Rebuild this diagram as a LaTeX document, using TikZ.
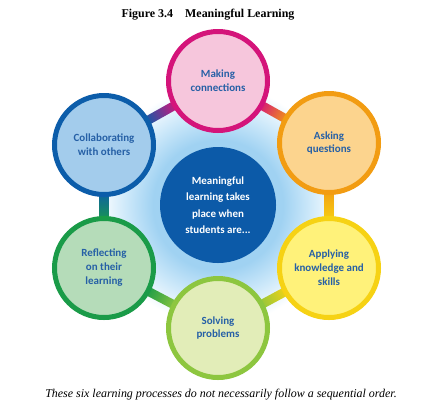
\documentclass[tikz,border=0pt]{standalone}
\usepackage{fontspec}
\setmainfont{Liberation Serif}
\newfontfamily\lblfont{Carlito}
\usetikzlibrary{calc,backgrounds}
\definecolor{txtblue}{RGB}{38,96,166}
\definecolor{centerblue}{RGB}{12,90,168}
\definecolor{glowA}{RGB}{206,233,250}
\definecolor{glowB}{RGB}{160,210,242}
\definecolor{magB}{RGB}{212,20,122}\definecolor{magF}{RGB}{246,198,220}
\definecolor{orgB}{RGB}{242,156,18}\definecolor{orgF}{RGB}{252,212,142}
\definecolor{yelB}{RGB}{246,210,20}\definecolor{yelF}{RGB}{255,242,122}
\definecolor{lgrB}{RGB}{141,198,63}\definecolor{lgrF}{RGB}{226,237,184}
\definecolor{grnB}{RGB}{26,155,72}\definecolor{grnF}{RGB}{181,220,185}
\definecolor{bluB}{RGB}{12,93,170}\definecolor{bluF}{RGB}{163,204,236}
\pgfdeclareradialshading{glowshade}{\pgfpoint{0bp}{0bp}}{%
  color(0bp)=(glowB); color(13bp)=(glowB); color(18.5bp)=(glowA);
  color(24bp)=(white); color(50bp)=(white)}
\tikzset{
  proc/.style 2 args={circle, draw=#1, fill=#2, line width=5bp, minimum size=99bp,
    inner sep=0pt, align=center, text=txtblue,
    font=\lblfont\bfseries\fontsize{11}{14}\selectfont},
  hub/.style={circle, fill=centerblue, minimum size=116bp, inner sep=0pt,
    align=center, text=white, font=\lblfont\bfseries\fontsize{11}{16.5}\selectfont},
  caption/.style={font=\itshape\fontsize{12}{14}\selectfont},
  title/.style={font=\bfseries\fontsize{12}{14}\selectfont}
}
\newcommand\linkbar[4]{%
  \path let \p1=($(#2)-(#1)$), \n1={atan2(\y1,\x1)} in
    \pgfextra{\pgfmathsetmacro\barang{\n1-90}\global\let\barang\barang};
  \shade[bottom color=#3, top color=#4, shading angle=\barang]
    ($(#1)!45bp!(#2)!4.5bp!90:(#2)$) -- ($(#2)!45bp!(#1)!4.5bp!-90:(#1)$) --
    ($(#2)!45bp!(#1)!4.5bp!90:(#1)$) -- ($(#1)!45bp!(#2)!4.5bp!-90:(#2)$) -- cycle;
}
\begin{document}
\begin{tikzpicture}[x=1bp,y=-1bp]
\useasboundingbox (0,0) rectangle (436,410);
\node[title] (t) at (208,15) {Figure 3.4\hspace{12bp}Meaningful Learning};
\node[hub] (c) at (218,205) {Meaningful\\learning takes\\place when\\students are...};
\node[proc={magB}{magF}] (m) at (218,81) {Making\\connections};
\node[proc={orgB}{orgF}] (a) at (329,143) {Asking\\questions};
\node[proc={yelB}{yelF}] (p) at (329,268) {Applying\\knowledge and\\skills};
\node[proc={lgrB}{lgrF}] (s) at (218,328) {Solving\\problems};
\node[proc={grnB}{grnF}] (r) at (104,268) {Reflecting\\on their\\learning};
\node[proc={bluB}{bluF}] (l) at (104,145) {Collaborating\\with others};
\node[caption] (cap) at (221,395) {These six learning processes do not necessarily follow a sequential order.};
\begin{scope}[on background layer]
  \shade[shading=glowshade] (c.center) circle (125bp);
  \linkbar{m}{a}{magB}{orgB}
  \linkbar{a}{p}{orgB}{yelB}
  \linkbar{p}{s}{yelB}{lgrB}
  \linkbar{s}{r}{lgrB}{grnB}
  \linkbar{r}{l}{grnB}{bluB}
  \linkbar{l}{m}{bluB}{magB}
\end{scope}
\end{tikzpicture}
\end{document}
